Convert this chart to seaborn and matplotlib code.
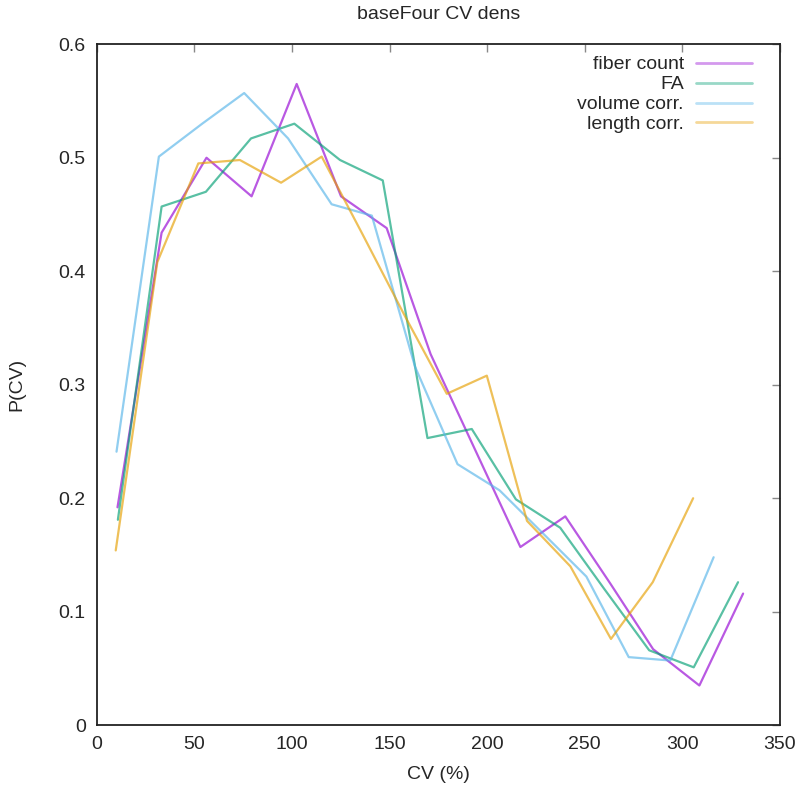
import pandas as pd
import seaborn as sns
import matplotlib.pyplot as plt

# CV (%) bin centres and densities
cv_fiber = [10.6, 33.2, 56.2, 79.3, 102.4, 125.1, 148.5, 171.0, 194.0, 217.0, 240.0, 263.0, 285.0, 308.7, 331.1]
p_fiber = [0.192, 0.434, 0.500, 0.466, 0.565, 0.466, 0.438, 0.327, 0.242, 0.157, 0.184, 0.125, 0.067, 0.035, 0.116]

cv_fa = [10.8, 33.2, 55.9, 79.0, 101.2, 124.6, 146.5, 169.4, 192.1, 214.7, 237.4, 260.0, 283.0, 305.8, 328.5]
p_fa = [0.181, 0.457, 0.470, 0.517, 0.530, 0.498, 0.480, 0.253, 0.261, 0.199, 0.174, 0.120, 0.066, 0.051, 0.126]

cv_volume = [10.1, 31.8, 54.0, 75.5, 98.0, 120.3, 140.9, 163.0, 184.8, 206.3, 228.0, 250.8, 272.5, 293.8, 316.0]
p_volume = [0.241, 0.501, 0.530, 0.557, 0.517, 0.459, 0.449, 0.316, 0.230, 0.207, 0.170, 0.131, 0.060, 0.057, 0.148]

cv_length = [9.7, 31.0, 52.0, 73.3, 94.4, 115.2, 136.0, 158.0, 179.3, 199.8, 220.4, 242.6, 263.4, 284.8, 305.5]
p_length = [0.154, 0.408, 0.495, 0.498, 0.478, 0.501, 0.433, 0.360, 0.292, 0.308, 0.180, 0.140, 0.076, 0.126, 0.200]

series = ['fiber count', 'FA', 'volume corr.', 'length corr.']
cores = ['#9400d3', '#009e73', '#56b4e9', '#e69f00']

dados = pd.concat([
    pd.DataFrame({'CV': cv_fiber, 'P': p_fiber, 'serie': series[0]}),
    pd.DataFrame({'CV': cv_fa, 'P': p_fa, 'serie': series[1]}),
    pd.DataFrame({'CV': cv_volume, 'P': p_volume, 'serie': series[2]}),
    pd.DataFrame({'CV': cv_length, 'P': p_length, 'serie': series[3]}),
], ignore_index=True)

sns.set_style('white')
plt.rcParams['font.family'] = ['Liberation Sans', 'DejaVu Sans']

fig = plt.figure(figsize=(8, 7.9), dpi=100)
ax = fig.add_axes([0.121, 0.082, 0.854, 0.862])

sns.lineplot(data=dados, x='CV', y='P', hue='serie', hue_order=series,
             palette=cores, estimator=None, sort=False, linewidth=1.6,
             alpha=0.65, ax=ax)

ax.set_xlim(0, 350)
ax.set_ylim(0, 0.6)
ax.set_xticks(range(0, 351, 50))
ax.set_yticks([0, 0.1, 0.2, 0.3, 0.4, 0.5, 0.6])
ax.set_yticklabels(['0', '0.1', '0.2', '0.3', '0.4', '0.5', '0.6'])
ax.tick_params(direction='in', length=6, width=1, color='#888888',
               top=True, right=True, labelsize=14, pad=8)
for lado in ax.spines.values():
    lado.set_color('#222222')
    lado.set_linewidth(1.3)

ax.set_xlabel('CV (%)', fontsize=14, labelpad=9)
ax.set_ylabel('P(CV)', fontsize=14, labelpad=24)
ax.set_title('baseFour CV dens', fontsize=14, pad=18)

leg = ax.legend(loc='upper right', bbox_to_anchor=(0.959, 0.983),
                frameon=False, markerfirst=False,
                fontsize=14, handlelength=2.9, handletextpad=0.6,
                labelspacing=0.12, borderpad=0.0, borderaxespad=0.0)
for txt in leg.get_texts():
    txt.set_ha('right')
leg._legend_box.align = 'right'
for linha in leg.get_lines():
    linha.set_alpha(0.4)
    linha.set_linewidth(2)

plt.savefig('out.png', dpi=100)
